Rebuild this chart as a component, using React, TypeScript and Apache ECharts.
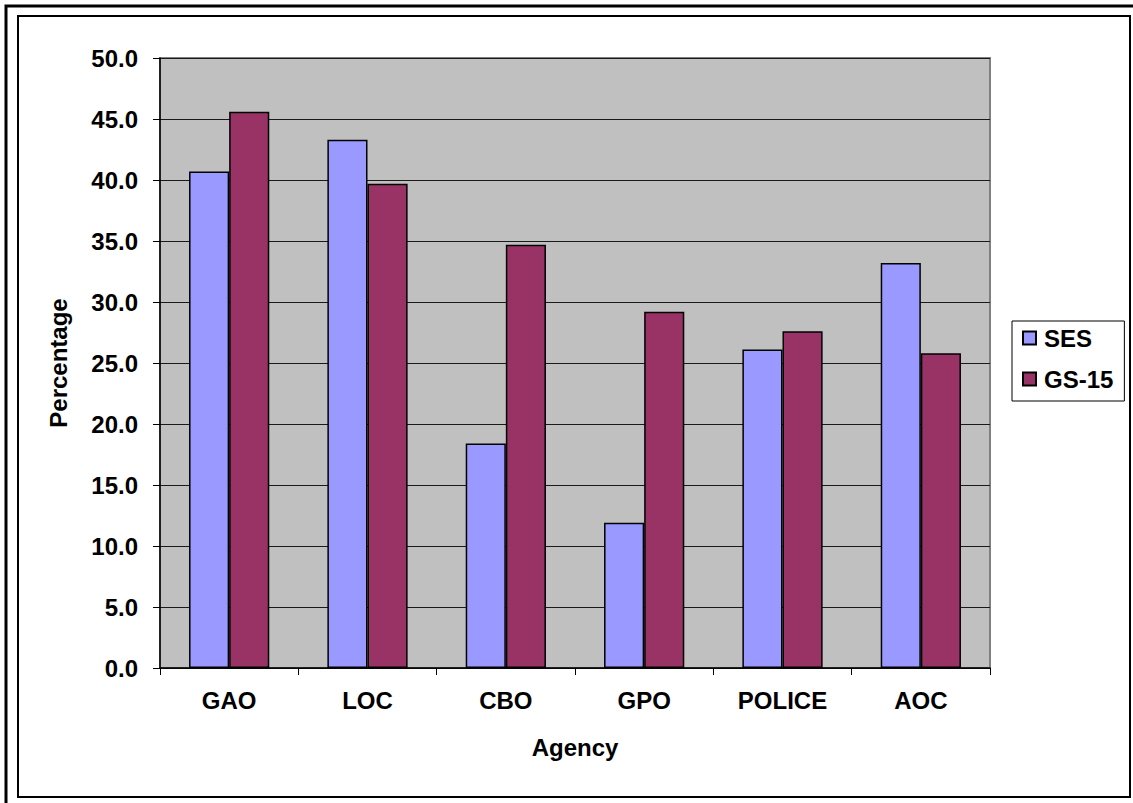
import React, { useEffect, useRef } from "react";
import * as echarts from "echarts";

const agencies = ["GAO", "LOC", "CBO", "GPO", "POLICE", "AOC"];
const sesValues = [40.7, 43.3, 18.4, 11.9, 26.1, 33.2];
const gs15Values = [45.6, 39.7, 34.7, 29.2, 27.6, 25.8];

const FONT = 'Arial, "Liberation Sans", sans-serif';

export default function App() {
  const ref = useRef<HTMLDivElement>(null);

  useEffect(() => {
    if (!ref.current) return;
    const chart = echarts.init(ref.current, undefined, { renderer: "svg" });
    chart.setOption({
      animation: false,
      backgroundColor: "#ffffff",
      textStyle: { fontFamily: FONT },
      graphic: [
        {
          type: "rect",
          shape: { x: 6, y: 6, width: 1200, height: 900 },
          style: { fill: "none", stroke: "#000", lineWidth: 3 },
          silent: true,
        },
        {
          type: "rect",
          shape: { x: 18, y: 16, width: 1112, height: 781 },
          style: { fill: "none", stroke: "#000", lineWidth: 2 },
          silent: true,
        },
      ],
      grid: {
        left: 160,
        top: 58,
        right: 143,
        bottom: 135,
        show: true,
        backgroundColor: "#C0C0C0",
        borderColor: "#808080",
        borderWidth: 2,
      },
      legend: {
        orient: "vertical",
        left: 1012,
        top: 321,
        width: 111,
        padding: [5, 11, 10, 10],
        itemGap: 17,
        itemWidth: 13,
        itemHeight: 13,
        borderColor: "#000",
        borderWidth: 1,
        backgroundColor: "#fff",
        icon: "rect",
        textStyle: {
          fontFamily: FONT,
          fontSize: 24,
          fontWeight: "bold",
          color: "#000",
          padding: [0, 0, 0, 3],
        },
        data: ["SES", "GS-15"],
      },
      xAxis: {
        type: "category",
        data: agencies,
        name: "Agency",
        nameLocation: "middle",
        nameGap: 67,
        nameTextStyle: { fontFamily: FONT, fontSize: 24, fontWeight: "bold", color: "#000" },
        axisLine: { lineStyle: { color: "#000", width: 1.5 } },
        axisTick: { show: true, length: 7, lineStyle: { color: "#000" } },
        axisLabel: { margin: 20, fontFamily: FONT, fontSize: 24, fontWeight: "bold", color: "#000" },
      },
      yAxis: {
        type: "value",
        min: 0,
        max: 50,
        interval: 5,
        name: "Percentage",
        nameLocation: "middle",
        nameGap: 90,
        nameTextStyle: { fontFamily: FONT, fontSize: 24, fontWeight: "bold", color: "#000" },
        axisLine: { show: true, lineStyle: { color: "#000", width: 1.5 } },
        axisTick: { show: true, length: 7, lineStyle: { color: "#000" } },
        axisLabel: {
          margin: 22,
          fontFamily: FONT,
          fontSize: 24,
          fontWeight: "bold",
          color: "#000",
          formatter: (v: number) => v.toFixed(1),
        },
        splitLine: { show: true, lineStyle: { color: "#1a1a1a", width: 1 } },
      },
      series: [
        {
          name: "SES",
          type: "bar",
          data: sesValues,
          barGap: "0%",
          barCategoryGap: "42%",
          itemStyle: { color: "#9999FF", borderColor: "#000", borderWidth: 1.5 },
        },
        {
          name: "GS-15",
          type: "bar",
          data: gs15Values,
          itemStyle: { color: "#993366", borderColor: "#000", borderWidth: 1.5 },
        },
      ],
    });
    return () => chart.dispose();
  }, []);

  return (
    <div
      ref={ref}
      style={{ position: "fixed", left: 0, top: 0, width: 1133, height: 803 }}
    />
  );
}
